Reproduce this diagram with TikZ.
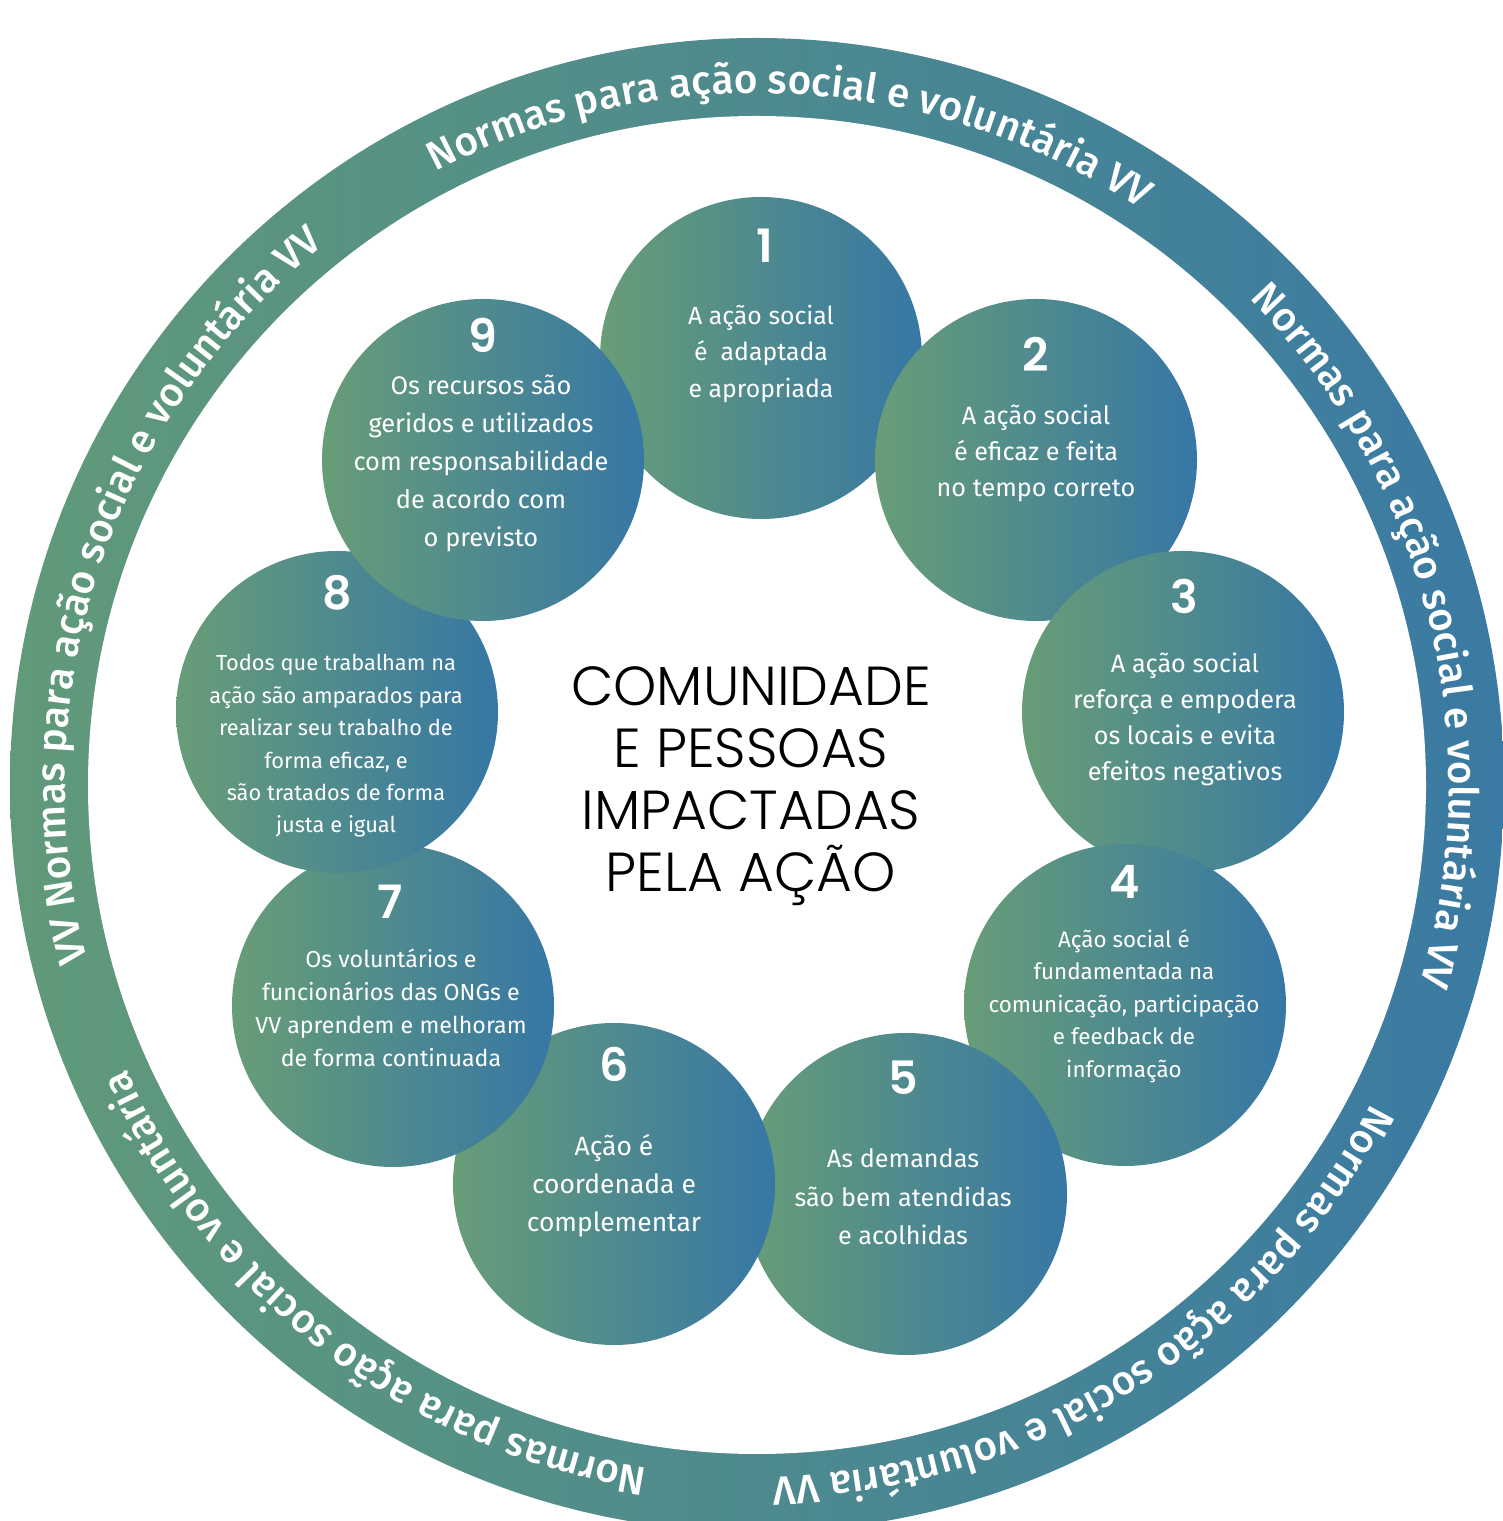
\documentclass[tikz,border=0pt]{standalone}
\usepackage{fontspec}
\newfontfamily\bodyfont{Fira Sans}
\newfontfamily\ringfont{Fira Sans Medium}
\newfontfamily\numfont{Poppins SemiBold}
\newfontfamily\ctrfont{Poppins Light}
\usetikzlibrary{decorations.text}
\definecolor{gL}{HTML}{689D77}
\definecolor{bR}{HTML}{3677A5}
\definecolor{rL}{HTML}{619A79}
\definecolor{rR}{HTML}{3A7AA3}
\newcommand\ringfmt{\ringfont\fontsize{20.25}{21}\selectfont}
\begin{document}
\begin{tikzpicture}[x=0.5pt,y=0.5pt,
  disc/.style={circle, minimum size=161pt, inner sep=0pt, left color=gL, right color=bR},
  num/.style={text=white, inner sep=0pt, font=\numfont\fontsize{23}{23}\selectfont},
  txt/.style={text=white, inner sep=0pt, align=center},
  ringtext/.style={decorate, decoration={text along path, text align=center, text color=white, text={|\ringfmt|#1}}}
]
\clip (0,0) rectangle (1503,1521);
\fill[white] (0,0) rectangle (1503,1521);
% outer ring
\coordinate (O) at (757,736);
\shade[left color=rL, right color=rR] (O) circle (747);
\fill[white] (O) circle (669);
% ring texts
\path[ringtext={Normas para ação social e voluntária VV}] (O) ++(127:692) arc[start angle=127, end angle=47, radius=692];
\path[ringtext={Normas para ação social e voluntária VV}] (O) ++(54:692) arc[start angle=54, end angle=-26, radius=692];
\path[ringtext={Normas para ação social e voluntária VV}] (O) ++(-18:692) arc[start angle=-18, end angle=-98, radius=692];
\path[ringtext={Normas para ação social e voluntária}] (O) ++(-87.4:692) arc[start angle=-87.4, end angle=-167.4, radius=692];
\path[ringtext={VV Normas para ação social e voluntária VV}] (O) ++(201.7:692) arc[start angle=201.7, end angle=121.7, radius=692];
% circles
\node[disc] (c1) at (761,1163) {};
\node[disc] (c2) at (1036,1061) {};
\node[disc] (c3) at (1183,809) {};
\node[disc] (c4) at (1125,516) {};
\node[disc] (c5) at (906,327) {};
\node[disc] (c6) at (614,337) {};
\node[disc] (c7) at (393,515) {};
\node[disc] (c8) at (337,809) {};
\node[disc] (c9) at (483,1061) {};
% numbers
\node[num] (n1) at (765,1275) {1};
\node[num] (n2) at (1036,1167) {2};
\node[num] (n3) at (1184,925) {3};
\node[num] (n4) at (1125,639) {4};
\node[num] (n5) at (903,443) {5};
\node[num] (n6) at (614,457) {6};
\node[num] (n7) at (390,619) {7};
\node[num] (n8) at (337,928) {8};
\node[num] (n9) at (483,1186) {9};
% texts
\node[txt, font=\bodyfont\fontsize{12.4}{18.25}\selectfont] (t1) at (761,1167.5) {A ação social\\é~~adaptada\\e apropriada};
\node[txt, font=\bodyfont\fontsize{12.6}{18}\selectfont] (t2) at (1036,1068) {A ação social\\é eficaz e feita\\no tempo correto};
\node[txt, font=\bodyfont\fontsize{12.6}{18}\selectfont] (t3) at (1185,802) {A ação social\\reforça e empodera\\os locais e evita\\efeitos negativos};
\node[txt, font=\bodyfont\fontsize{11.2}{16.25}\selectfont] (t4) at (1124,515) {Ação social é\\fundamentada na\\comunicação, participação\\e feedback de\\informação};
\node[txt, font=\bodyfont\fontsize{12.6}{19.25}\selectfont] (t5) at (903,324) {As demandas\\são bem atendidas\\e acolhidas};
\node[txt, font=\bodyfont\fontsize{13.2}{19}\selectfont] (t6) at (614,335) {Ação é\\coordenada e\\complementar};
\node[txt, font=\bodyfont\fontsize{11.6}{16.5}\selectfont] (t7) at (391,513) {Os voluntários e\\funcionários das ONGs e\\VV aprendem e melhoram\\de forma continuada};
\node[txt, font=\bodyfont\fontsize{10.9}{16.2}\selectfont] (t8) at (336,775) {Todos que trabalham na\\ação são amparados para\\realizar seu trabalho de\\forma eficaz, e\\são tratados de forma\\justa e igual};
\node[txt, font=\bodyfont\fontsize{12.7}{19}\selectfont] (t9) at (481,1058) {Os recursos são\\geridos e utilizados\\com responsabilidade\\de acordo com\\o previsto};
% centre
\node[align=center, inner sep=0pt, text=black, font=\ctrfont\fontsize{27.5}{31}\selectfont] (ctr) at (751,735) {COMUNIDADE\\E PESSOAS\\IMPACTADAS\\PELA AÇÃO};
\end{tikzpicture}
\end{document}
